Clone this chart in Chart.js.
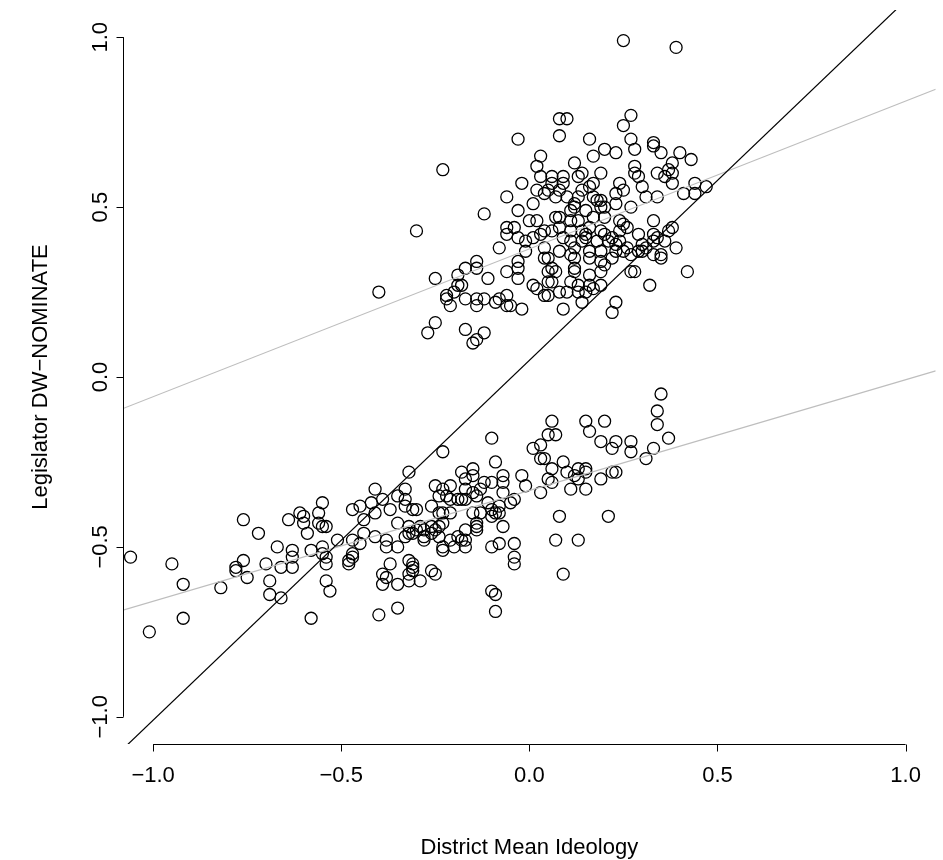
<!DOCTYPE html>
<html>
<head>
<meta charset="utf-8">
<title>District Mean Ideology vs Legislator DW-NOMINATE</title>
<script src="https://cdn.jsdelivr.net/npm/chart.js@4.4.1/dist/chart.umd.min.js"></script>
<style>
  html, body { margin: 0; padding: 0; background: #fff; }
  canvas { display: block; }
</style>
</head>
<body>
<canvas id="scatter" width="943" height="860"></canvas>
<script>
// upper cluster (Republicans): [district ideology, DW-NOMINATE]
const repPoints = [
  [-0.03,0.70],[-0.23,0.61],[-0.02,0.57],[-0.06,0.53],[-0.12,0.48],[-0.03,0.49],[-0.06,0.44],[-0.06,0.42],[-0.04,0.44],[-0.30,0.43],
  [-0.03,0.41],[-0.08,0.38],[-0.01,0.37],[-0.03,0.34],[-0.06,0.31],[-0.03,0.32],[-0.14,0.34],[-0.14,0.32],[-0.17,0.32],[-0.19,0.30],
  [-0.11,0.29],[-0.03,0.29],[-0.25,0.29],[-0.40,0.25],[-0.19,0.27],[-0.18,0.27],[-0.20,0.25],[-0.22,0.24],[-0.22,0.23],[-0.21,0.21],
  [-0.17,0.23],[-0.14,0.23],[-0.14,0.21],[-0.12,0.23],[-0.09,0.22],[-0.08,0.23],[-0.06,0.24],[-0.06,0.21],[-0.05,0.21],[-0.02,0.20],
  [-0.25,0.16],[-0.27,0.13],[-0.17,0.14],[-0.14,0.11],[-0.15,0.10],[-0.12,0.13],[-0.01,0.40],[0.04,0.35],[0.01,0.27],[0.02,0.26],[0.04,0.24],
  [0.03,0.65],[0.02,0.62],[0.12,0.63],[0.17,0.65],[0.23,0.66],[0.19,0.60],[0.14,0.60],[0.13,0.59],[0.09,0.59],[0.06,0.59],
  [0.03,0.59],[0.09,0.57],[0.17,0.57],[0.24,0.57],[0.06,0.57],[0.02,0.55],[0.05,0.55],[0.08,0.55],[0.14,0.55],[0.16,0.56],
  [0.23,0.54],[0.25,0.55],[0.04,0.54],[0.07,0.53],[0.10,0.53],[0.13,0.53],[0.17,0.53],[0.18,0.52],[0.19,0.52],[0.20,0.50],
  [0.19,0.50],[0.23,0.51],[0.01,0.51],[0.12,0.51],[0.12,0.50],[0.11,0.49],[0.15,0.49],[0.07,0.47],[0.08,0.47],[0.11,0.46],
  [0.13,0.46],[0.02,0.46],[0.00,0.46],[0.17,0.47],[0.20,0.47],[0.24,0.46],[0.04,0.43],[0.06,0.43],[0.03,0.42],[0.08,0.44],
  [0.11,0.43],[0.14,0.43],[0.15,0.42],[0.19,0.43],[0.20,0.42],[0.24,0.43],[0.25,0.45],[0.01,0.41],[0.09,0.41],[0.11,0.40],
  [0.14,0.40],[0.15,0.41],[0.18,0.40],[0.22,0.41],[0.23,0.39],[0.04,0.38],[0.08,0.37],[0.12,0.38],[0.11,0.36],[0.16,0.37],
  [0.19,0.37],[0.23,0.37],[0.25,0.37],[0.16,0.44],[0.21,0.40],
  [0.25,0.99],[0.39,0.97],[0.08,0.76],[0.10,0.76],[0.08,0.71],[0.27,0.77],[0.25,0.74],[0.16,0.70],[0.27,0.70],[0.33,0.69],
  [0.33,0.68],[0.20,0.67],[0.28,0.67],[0.35,0.66],[0.40,0.66],[0.43,0.64],[0.38,0.63],[0.28,0.62],[0.28,0.60],[0.29,0.59],
  [0.34,0.60],[0.36,0.59],[0.37,0.61],[0.38,0.60],[0.38,0.57],[0.44,0.57],[0.47,0.56],[0.30,0.56],[0.31,0.53],[0.34,0.53],
  [0.27,0.50],[0.41,0.54],[0.44,0.54],[0.33,0.46],[0.26,0.44],[0.37,0.43],[0.38,0.44],[0.29,0.42],[0.33,0.42],[0.34,0.41],
  [0.36,0.40],[0.24,0.40],[0.26,0.38],[0.30,0.39],[0.31,0.38],[0.30,0.37],[0.39,0.38],[0.35,0.36],[0.27,0.36],[0.33,0.36],
  [0.33,0.40],[0.35,0.35],[0.29,0.37],
  [0.05,0.35],[0.12,0.35],[0.16,0.35],[0.19,0.34],[0.20,0.33],[0.22,0.35],[0.06,0.32],[0.07,0.31],[0.05,0.31],[0.12,0.32],
  [0.12,0.31],[0.16,0.30],[0.19,0.31],[0.06,0.28],[0.05,0.28],[0.11,0.28],[0.13,0.27],[0.16,0.27],[0.19,0.27],[0.17,0.26],
  [0.08,0.25],[0.05,0.24],[0.10,0.25],[0.13,0.25],[0.15,0.25],[0.14,0.22],[0.09,0.20],[0.23,0.22],[0.22,0.19],[0.27,0.31],
  [0.28,0.31],[0.32,0.27],[0.42,0.31]
];

// lower cluster (Democrats)
const demPoints = [
  [-1.06,-0.53],[-1.01,-0.75],[-0.95,-0.55],[-0.92,-0.61],[-0.92,-0.71],[-0.82,-0.62],[-0.76,-0.42],[-0.72,-0.46],[-0.78,-0.56],[-0.78,-0.57],
  [-0.76,-0.54],[-0.75,-0.59],[-0.70,-0.55],[-0.69,-0.60],[-0.69,-0.64],[-0.66,-0.65],[-0.67,-0.50],[-0.66,-0.56],[-0.63,-0.56],[-0.63,-0.51],
  [-0.63,-0.53],[-0.64,-0.42],[-0.61,-0.40],[-0.60,-0.41],[-0.60,-0.43],[-0.59,-0.46],[-0.58,-0.51],[-0.58,-0.71],
  [-0.23,-0.22],[-0.32,-0.28],[-0.25,-0.32],[-0.23,-0.33],[-0.22,-0.35],[-0.41,-0.33],[-0.33,-0.33],[-0.33,-0.36],[-0.35,-0.35],[-0.39,-0.36],
  [-0.42,-0.37],[-0.45,-0.38],[-0.47,-0.39],[-0.41,-0.40],[-0.37,-0.39],[-0.33,-0.38],[-0.31,-0.39],[-0.30,-0.39],[-0.26,-0.38],[-0.24,-0.40],
  [-0.23,-0.40],[-0.55,-0.37],[-0.56,-0.40],[-0.56,-0.43],[-0.55,-0.44],[-0.54,-0.44],[-0.44,-0.42],[-0.35,-0.43],[-0.32,-0.44],[-0.30,-0.45],
  [-0.29,-0.44],[-0.28,-0.45],[-0.26,-0.44],[-0.25,-0.45],[-0.24,-0.44],[-0.23,-0.43],[-0.33,-0.47],[-0.31,-0.46],[-0.28,-0.48],[-0.28,-0.47],
  [-0.26,-0.46],[-0.24,-0.47],[-0.44,-0.46],[-0.41,-0.47],[-0.38,-0.48],[-0.47,-0.48],[-0.45,-0.49],[-0.51,-0.48],[-0.38,-0.50],[-0.35,-0.50],
  [-0.55,-0.50],[-0.55,-0.52],[-0.54,-0.53],[-0.54,-0.55],[-0.48,-0.54],[-0.47,-0.53],[-0.47,-0.52],[-0.48,-0.55],[-0.32,-0.54],[-0.31,-0.55],
  [-0.31,-0.56],[-0.23,-0.51],[-0.26,-0.57],[-0.25,-0.58],[-0.37,-0.55],[-0.39,-0.58],[-0.38,-0.59],[-0.39,-0.61],[-0.35,-0.61],[-0.32,-0.60],
  [-0.31,-0.57],[-0.32,-0.58],[-0.29,-0.60],[-0.54,-0.60],[-0.53,-0.63],[-0.35,-0.68],[-0.40,-0.70],
  [-0.21,-0.32],[-0.18,-0.28],[-0.17,-0.30],[-0.15,-0.27],[-0.15,-0.29],[-0.13,-0.33],[-0.12,-0.31],[-0.17,-0.33],[-0.15,-0.34],[-0.17,-0.36],
  [-0.18,-0.36],[-0.19,-0.36],[-0.21,-0.40],[-0.15,-0.40],[-0.13,-0.40],[-0.14,-0.43],[-0.14,-0.44],[-0.14,-0.45],[-0.17,-0.45],[-0.32,-0.46],
  [-0.21,-0.48],[-0.19,-0.47],[-0.18,-0.48],[-0.17,-0.48],[-0.23,-0.50],[-0.20,-0.50],[-0.17,-0.50],
  [0.06,-0.13],[0.05,-0.17],[0.07,-0.17],[-0.10,-0.18],[-0.09,-0.25],[0.01,-0.21],[0.03,-0.20],[0.03,-0.24],[0.04,-0.24],[0.06,-0.27],
  [0.09,-0.25],[-0.07,-0.29],[-0.07,-0.31],[-0.02,-0.29],[0.05,-0.30],[0.06,-0.31],[-0.10,-0.31],[-0.14,-0.35],[-0.07,-0.34],[-0.01,-0.32],
  [0.03,-0.34],[-0.04,-0.36],[-0.05,-0.37],[-0.24,-0.35],[-0.21,-0.36],[-0.11,-0.37],[-0.10,-0.39],[-0.09,-0.40],[-0.08,-0.40],[-0.08,-0.38],
  [-0.10,-0.41],[-0.07,-0.44],[-0.10,-0.50],[-0.08,-0.49],[-0.04,-0.49],[-0.04,-0.53],[-0.04,-0.55],[-0.10,-0.63],[-0.09,-0.64],[-0.09,-0.69],
  [0.08,-0.41],[0.07,-0.48],[0.09,-0.58],
  [0.35,-0.05],[0.34,-0.10],[0.34,-0.14],[0.37,-0.18],[0.33,-0.21],[0.31,-0.24],[0.15,-0.13],[0.16,-0.16],[0.20,-0.13],[0.19,-0.19],
  [0.22,-0.21],[0.23,-0.19],[0.27,-0.19],[0.27,-0.22],[0.10,-0.28],[0.12,-0.29],[0.13,-0.30],[0.13,-0.27],[0.15,-0.27],[0.15,-0.28],
  [0.11,-0.33],[0.15,-0.33],[0.19,-0.30],[0.22,-0.28],[0.23,-0.28],[0.21,-0.41],[0.13,-0.48]
];

// fitted lines: [intercept, slope]
const fitAll = [0.049, 1.059];
const fitRep = [0.377, 0.435];
const fitDem = [-0.334, 0.326];

const axisRange = [-1.08, 1.08];
const xTicks = [-1.0, -0.5, 0.0, 0.5, 1.0];
const yTicks = [-1.0, -0.5, 0.0, 0.5, 1.0];
const xTickLabels = ["\u22121.0", "\u22120.5", "0.0", "0.5", "1.0"];
const yTickLabels = ["\u22121.0", "\u22120.5", "0.0", "0.5", "1.0"];
const xTitle = "District Mean Ideology";
const yTitle = "Legislator DW\u2212NOMINATE";

const FONT = '22px "Liberation Sans", Arial, Helvetica, sans-serif';

function toXY(list) {
  return list.map(p => ({ x: p[0], y: p[1] }));
}

function fitLine(fit) {
  return axisRange.map(x => ({ x, y: fit[0] + fit[1] * x }));
}

// R style axes: line only between first and last tick
const rAxes = {
  id: 'rAxes',
  afterDraw(chart) {
    const ctx = chart.ctx;
    const xs = chart.scales.x;
    const ys = chart.scales.y;
    const area = chart.chartArea;
    ctx.save();
    ctx.strokeStyle = '#000';
    ctx.fillStyle = '#000';
    ctx.lineWidth = 1;
    ctx.font = FONT;

    // bottom axis
    const by = Math.round(area.bottom) + 0.5;
    ctx.beginPath();
    ctx.moveTo(xs.getPixelForValue(xTicks[0]), by);
    ctx.lineTo(xs.getPixelForValue(xTicks[xTicks.length - 1]), by);
    xTicks.forEach(v => {
      const px = Math.round(xs.getPixelForValue(v)) + 0.5;
      ctx.moveTo(px, by);
      ctx.lineTo(px, by + 7);
    });
    ctx.stroke();
    ctx.textAlign = 'center';
    ctx.textBaseline = 'middle';
    xTicks.forEach((v, i) => ctx.fillText(xTickLabels[i], xs.getPixelForValue(v), by + 31));
    ctx.fillText(xTitle, (area.left + area.right) / 2, by + 103);

    // left axis
    const lx = Math.round(area.left) + 0.5;
    ctx.beginPath();
    ctx.moveTo(lx, ys.getPixelForValue(yTicks[0]));
    ctx.lineTo(lx, ys.getPixelForValue(yTicks[yTicks.length - 1]));
    yTicks.forEach(v => {
      const py = Math.round(ys.getPixelForValue(v)) + 0.5;
      ctx.moveTo(lx, py);
      ctx.lineTo(lx - 7, py);
    });
    ctx.stroke();
    yTicks.forEach((v, i) => {
      ctx.save();
      ctx.translate(lx - 23, ys.getPixelForValue(v));
      ctx.rotate(-Math.PI / 2);
      ctx.fillText(yTickLabels[i], 0, 0);
      ctx.restore();
    });
    ctx.save();
    ctx.translate(lx - 83, (area.top + area.bottom) / 2);
    ctx.rotate(-Math.PI / 2);
    ctx.fillText(yTitle, 0, 0);
    ctx.restore();

    ctx.restore();
  }
};

const lineStyle = { type: 'line', pointRadius: 0, fill: false, tension: 0, borderWidth: 1.2 };

new Chart(document.getElementById('scatter'), {
  type: 'scatter',
  data: {
    datasets: [
      Object.assign({ data: fitLine(fitAll), borderColor: '#000', order: 0 }, lineStyle),
      Object.assign({ data: fitLine(fitRep), borderColor: '#bebebe', order: 1 }, lineStyle),
      Object.assign({ data: fitLine(fitDem), borderColor: '#bebebe', order: 1 }, lineStyle),
      {
        label: 'Republicans',
        data: toXY(repPoints),
        pointStyle: 'circle',
        pointRadius: 6,
        borderWidth: 1.3,
        borderColor: '#000',
        backgroundColor: 'rgba(0,0,0,0)',
        order: 2
      },
      {
        label: 'Democrats',
        data: toXY(demPoints),
        pointStyle: 'circle',
        pointRadius: 6,
        borderWidth: 1.3,
        borderColor: '#000',
        backgroundColor: 'rgba(0,0,0,0)',
        order: 2
      }
    ]
  },
  options: {
    responsive: false,
    animation: false,
    devicePixelRatio: 1,
    layout: { padding: { left: 123, right: 0, top: 10, bottom: 116 } },
    plugins: {
      legend: { display: false },
      tooltip: { enabled: false }
    },
    scales: {
      x: { type: 'linear', min: axisRange[0], max: axisRange[1], display: false },
      y: { type: 'linear', min: axisRange[0], max: axisRange[1], display: false }
    }
  },
  plugins: [rAxes]
});
</script>
</body>
</html>
